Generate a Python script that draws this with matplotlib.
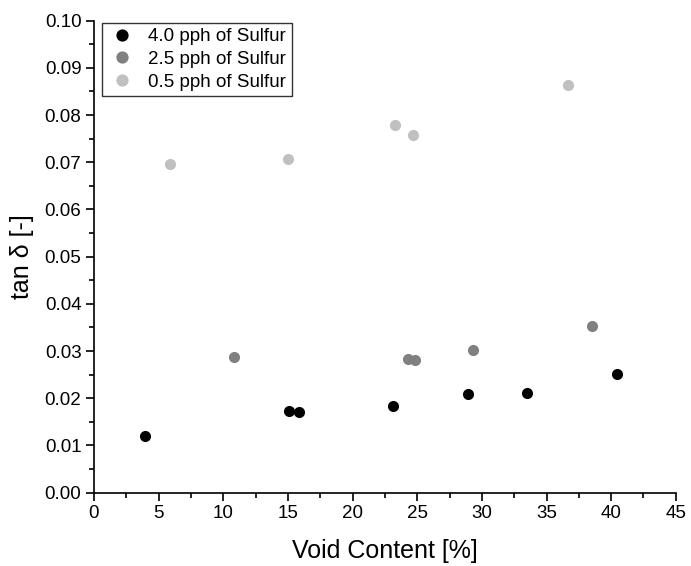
"""Loss factor versus void content for three sulfur loadings."""

import matplotlib
import matplotlib.pyplot as plt
from matplotlib.ticker import MultipleLocator

matplotlib.use("Agg")

plt.rcParams["font.family"] = ["Liberation Sans", "DejaVu Sans"]

# void content [%] and tan delta [-] per sulfur loading
void_s40 = [3.97, 15.1, 15.85, 23.1, 28.9, 33.5, 40.45]
tand_s40 = [0.0121, 0.0174, 0.0170, 0.0184, 0.0209, 0.0211, 0.0252]

void_s25 = [10.86, 24.25, 24.8, 29.35, 38.5]
tand_s25 = [0.0287, 0.0283, 0.0281, 0.0302, 0.0354]

void_s05 = [5.9, 15.0, 23.3, 24.65, 36.7]
tand_s05 = [0.0696, 0.0707, 0.0778, 0.0757, 0.0864]

labels = ["4.0 pph of Sulfur", "2.5 pph of Sulfur", "0.5 pph of Sulfur"]
colors = ["#000000", "#808080", "#c0c0c0"]

fig = plt.figure(figsize=(6.91, 5.66), dpi=100)
ax = fig.add_axes([0.136, 0.1295, 0.842, 0.834])

series = [(void_s40, tand_s40), (void_s25, tand_s25), (void_s05, tand_s05)]
for (x, y), lab, col in zip(series, labels, colors):
    ax.plot(x, y, "o", color=col, markersize=8, markeredgewidth=0, label=lab)

ax.set_xlim(0, 45)
ax.set_ylim(0, 0.10)
ax.xaxis.set_major_locator(MultipleLocator(5))
ax.xaxis.set_minor_locator(MultipleLocator(2.5))
ax.yaxis.set_major_locator(MultipleLocator(0.01))
ax.yaxis.set_minor_locator(MultipleLocator(0.005))
ax.yaxis.set_major_formatter(matplotlib.ticker.FormatStrFormatter("%.2f"))

for side in ("top", "right"):
    ax.spines[side].set_visible(False)
for side in ("left", "bottom"):
    ax.spines[side].set_linewidth(1.2)
    ax.spines[side].set_clip_on(False)

ax.tick_params(which="major", direction="out", length=6, width=1.2, labelsize=13.5, pad=3)
ax.tick_params(which="minor", direction="out", length=3.5, width=1.2)

ax.set_xlabel("Void Content [%]", fontsize=18, labelpad=12)
ax.set_ylabel("tan \u03b4 [-]", fontsize=18, labelpad=8)

leg = ax.legend(loc="upper left", bbox_to_anchor=(0.013, 0.996), fontsize=13.5,
                frameon=True, fancybox=False, edgecolor="black",
                borderpad=0.3, labelspacing=0.3, handletextpad=0.6,
                handlelength=1.6, borderaxespad=0, markerscale=1.1)
leg.get_frame().set_linewidth(1.0)

fig.savefig("out.png", dpi=100)
plt.close(fig)
